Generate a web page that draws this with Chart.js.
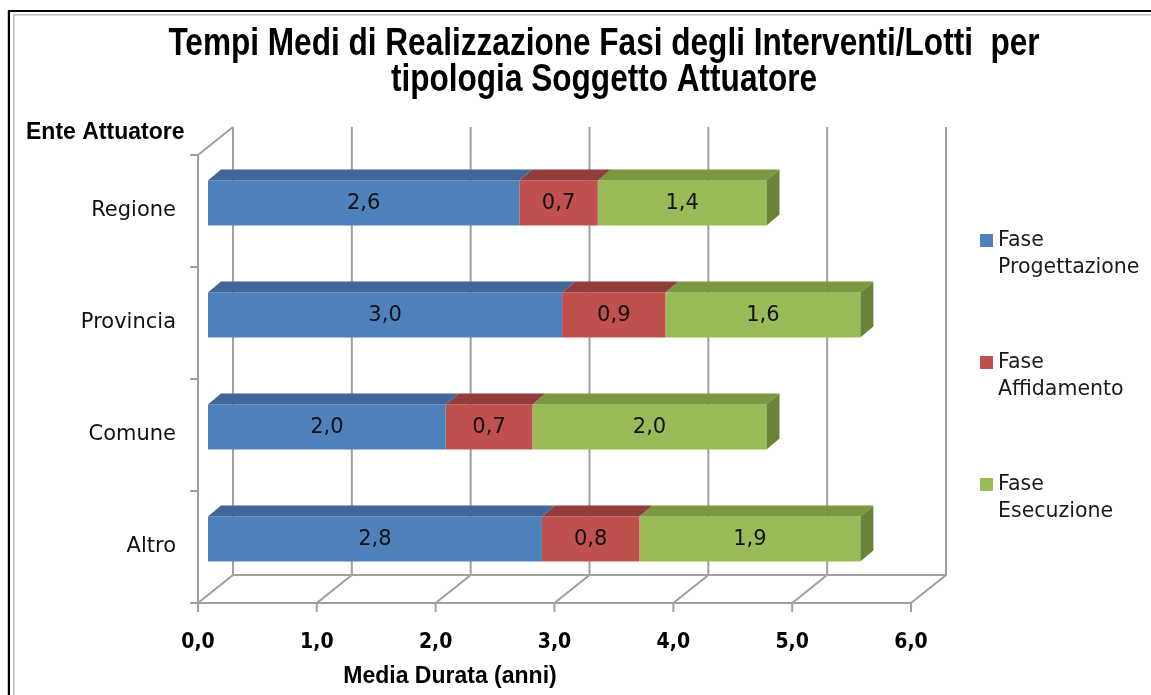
<!DOCTYPE html>
<html>
<head>
<meta charset="utf-8">
<script src="https://cdn.jsdelivr.net/npm/chart.js@4.4.1/dist/chart.umd.min.js"></script>
<style>
  html, body { margin: 0; padding: 0; background: #fff; }
  #wrap { position: relative; width: 1151px; height: 695px; }
</style>
</head>
<body>
<div id="wrap"><canvas id="c" width="1151" height="695"></canvas></div>
<script>
// ---- data ----
const categories = ['Regione', 'Provincia', 'Comune', 'Altro'];
const seriesNames = [['Fase', 'Progettazione'], ['Fase', 'Affidamento'], ['Fase', 'Esecuzione']];
const progettazione = [2.62, 2.98, 2.00, 2.81];
const affidamento = [0.66, 0.87, 0.73, 0.82];
const esecuzione = [1.42, 1.64, 1.97, 1.86];
const xTicks = [0, 1, 2, 3, 4, 5, 6];
const titleLines = ['Tempi Medi di Realizzazione Fasi degli Interventi/Lotti  per', 'tipologia Soggetto Attuatore'];
const yAxisTitle = 'Ente Attuatore';
const xAxisTitle = 'Media Durata (anni)';

// ---- styling ----
const frontColors = ['#4f81bd', '#c0504d', '#9bbb59'];
const topColors = ['#3f6797', '#913d3b', '#7a983f'];
const sideColor = '#6a8539';
const gridColor = '#a0a0a0';
const BAR_DX = 10, BAR_DY = -8;     // bar front-face offset from front plane
const DEPTH_DX = 13, DEPTH_DY = -11; // bar depth
const WALL_DX = 35, WALL_DY = -28;   // back wall offset

const fmt = v => v.toFixed(1).replace('.', ',');

const plugin3d = {
  id: 'plugin3d',
  beforeDraw(chart) {
    const ctx = chart.ctx;
    const xs = chart.scales.x;
    const a = chart.chartArea;
    ctx.save();
    ctx.fillStyle = '#fff';
    ctx.fillRect(0, 0, chart.width, chart.height);
    // frame
    ctx.fillStyle = '#c8c8c8';
    ctx.fillRect(7, 10, 1, 685);
    ctx.fillStyle = '#000';
    ctx.fillRect(8, 10, chart.width - 8, 2);
    ctx.fillRect(8, 10, 2, chart.height - 10);
    ctx.fillStyle = '#bdbdbd';
    ctx.fillRect(13, 14, chart.width - 13, 1.5);
    ctx.fillRect(13, 14, 1.5, chart.height - 14);

    ctx.strokeStyle = gridColor;
    ctx.lineWidth = 2;
    ctx.beginPath();
    const bottom = a.bottom, top = a.top;
    xTicks.forEach(t => {
      const px = xs.getPixelForValue(t);
      ctx.moveTo(px + WALL_DX, top + WALL_DY);
      ctx.lineTo(px + WALL_DX, bottom + WALL_DY);
      ctx.lineTo(px, bottom);
      ctx.lineTo(px, bottom + 9);
    });
    const x0 = xs.getPixelForValue(xTicks[0]);
    const xN = xs.getPixelForValue(xTicks[xTicks.length - 1]);
    ctx.moveTo(x0 + WALL_DX, bottom + WALL_DY);
    ctx.lineTo(xN + WALL_DX, bottom + WALL_DY);
    ctx.moveTo(x0 - 8, bottom);
    ctx.lineTo(xN, bottom);
    ctx.moveTo(x0, bottom);
    ctx.lineTo(x0, top);
    ctx.lineTo(x0 + WALL_DX, top + WALL_DY);
    const n = categories.length;
    for (let i = 0; i <= n; i++) {
      const py = top + (bottom - top) * i / n;
      ctx.moveTo(x0 - 8, py);
      ctx.lineTo(x0, py);
    }
    ctx.stroke();
    ctx.restore();
  },
  beforeDatasetDraw(chart) {
    chart.ctx.save();
    chart.ctx.translate(BAR_DX, BAR_DY);
  },
  afterDatasetDraw(chart, args) {
    const ctx = chart.ctx;
    const meta = args.meta;
    const di = args.index;
    const last = di === chart.data.datasets.length - 1;
    meta.data.forEach(el => {
      const p = el.getProps(['x', 'y', 'base', 'height'], true);
      const left = Math.min(p.x, p.base), right = Math.max(p.x, p.base);
      const t = p.y - p.height / 2, b = p.y + p.height / 2;
      ctx.fillStyle = topColors[di];
      ctx.beginPath();
      ctx.moveTo(left, t);
      ctx.lineTo(right, t);
      ctx.lineTo(right + DEPTH_DX, t + DEPTH_DY);
      ctx.lineTo(left + DEPTH_DX, t + DEPTH_DY);
      ctx.closePath();
      ctx.fill();
      if (last) {
        ctx.fillStyle = sideColor;
        ctx.beginPath();
        ctx.moveTo(right, t);
        ctx.lineTo(right + DEPTH_DX, t + DEPTH_DY);
        ctx.lineTo(right + DEPTH_DX, b + DEPTH_DY);
        ctx.lineTo(right, b);
        ctx.closePath();
        ctx.fill();
      }
    });
    ctx.restore();
  },
  afterDatasetsDraw(chart) {
    const ctx = chart.ctx;
    ctx.save();
    ctx.translate(BAR_DX, BAR_DY);
    ctx.font = '21px "DejaVu Sans"';
    ctx.fillStyle = '#111';
    ctx.textAlign = 'center';
    ctx.textBaseline = 'middle';
    chart.data.datasets.forEach((ds, di) => {
      const meta = chart.getDatasetMeta(di);
      meta.data.forEach((el, i) => {
        const p = el.getProps(['x', 'y', 'base'], true);
        ctx.fillText(fmt(ds.data[i]), (p.x + p.base) / 2, p.y + 1);
      });
    });
    ctx.restore();
  },
  afterDraw(chart) {
    const ctx = chart.ctx;
    ctx.save();
    ctx.fillStyle = '#000';
    ctx.textAlign = 'center';
    ctx.textBaseline = 'alphabetic';
    const narrow = 'bold 38.5px "Liberation Sans Narrow"';
    const reg = 'bold 38.5px "Liberation Sans"';
    ctx.font = reg;
    const wReg = ctx.measureText(titleLines[0]).width;
    ctx.font = narrow + ', "Liberation Sans"';
    const wNar = ctx.measureText(titleLines[0]).width;
    let sx = 1;
    if (Math.abs(wReg - wNar) < 1) { sx = 0.82; ctx.font = reg; }
    const baselines = [55, 91];
    titleLines.forEach((ln, i) => {
      ctx.save();
      ctx.translate(604, baselines[i]);
      ctx.scale(sx, 1);
      ctx.fillText(ln, 0, 0);
      ctx.restore();
    });
    ctx.font = 'bold 23px "Liberation Sans"';
    ctx.textAlign = 'left';
    ctx.fillText(yAxisTitle, 26, 139);
    ctx.textAlign = 'center';
    ctx.fillText(xAxisTitle, 450, 683);
    ctx.font = '20.5px "DejaVu Sans"';
    ctx.textAlign = 'left';
    ctx.textBaseline = 'middle';
    const legendY = [241, 363, 485];
    seriesNames.forEach((lines, i) => {
      ctx.fillStyle = frontColors[i];
      ctx.fillRect(980, legendY[i] - 7, 13, 13);
      ctx.fillStyle = '#1a1a1a';
      lines.forEach((ln, j) => ctx.fillText(ln, 998, legendY[i] + j * 27));
    });
    ctx.restore();
  }
};

new Chart(document.getElementById('c'), {
  type: 'bar',
  data: {
    labels: categories,
    datasets: [
      { label: seriesNames[0].join(' '), data: progettazione, backgroundColor: frontColors[0] },
      { label: seriesNames[1].join(' '), data: affidamento, backgroundColor: frontColors[1] },
      { label: seriesNames[2].join(' '), data: esecuzione, backgroundColor: frontColors[2] }
    ]
  },
  options: {
    indexAxis: 'y',
    responsive: false,
    animation: false,
    events: [],
    barPercentage: 0.4,
    categoryPercentage: 1.0,
    layout: { padding: { top: 155, right: 240, left: 0, bottom: 0 } },
    plugins: { legend: { display: false }, title: { display: false }, tooltip: { enabled: false } },
    scales: {
      x: {
        stacked: true,
        min: 0, max: 6,
        grid: { display: false },
        border: { display: false },
        afterFit(s) { s.height = 92; },
        afterBuildTicks(s) { s.ticks = xTicks.map(v => ({ value: v })); },
        ticks: {
          autoSkip: false, maxRotation: 0, padding: 19,
          color: '#000',
          font: { family: '"DejaVu Sans Condensed", "DejaVu Sans"', weight: 'bold', size: 21 },
          callback: v => fmt(v)
        }
      },
      y: {
        stacked: true,
        grid: { display: false },
        border: { display: false },
        afterFit(s) { s.width = 198; },
        ticks: {
          padding: 14, color: '#111',
          font: { family: '"DejaVu Sans"', size: 21 }
        }
      }
    }
  },
  plugins: [plugin3d]
});
</script>
</body>
</html>
